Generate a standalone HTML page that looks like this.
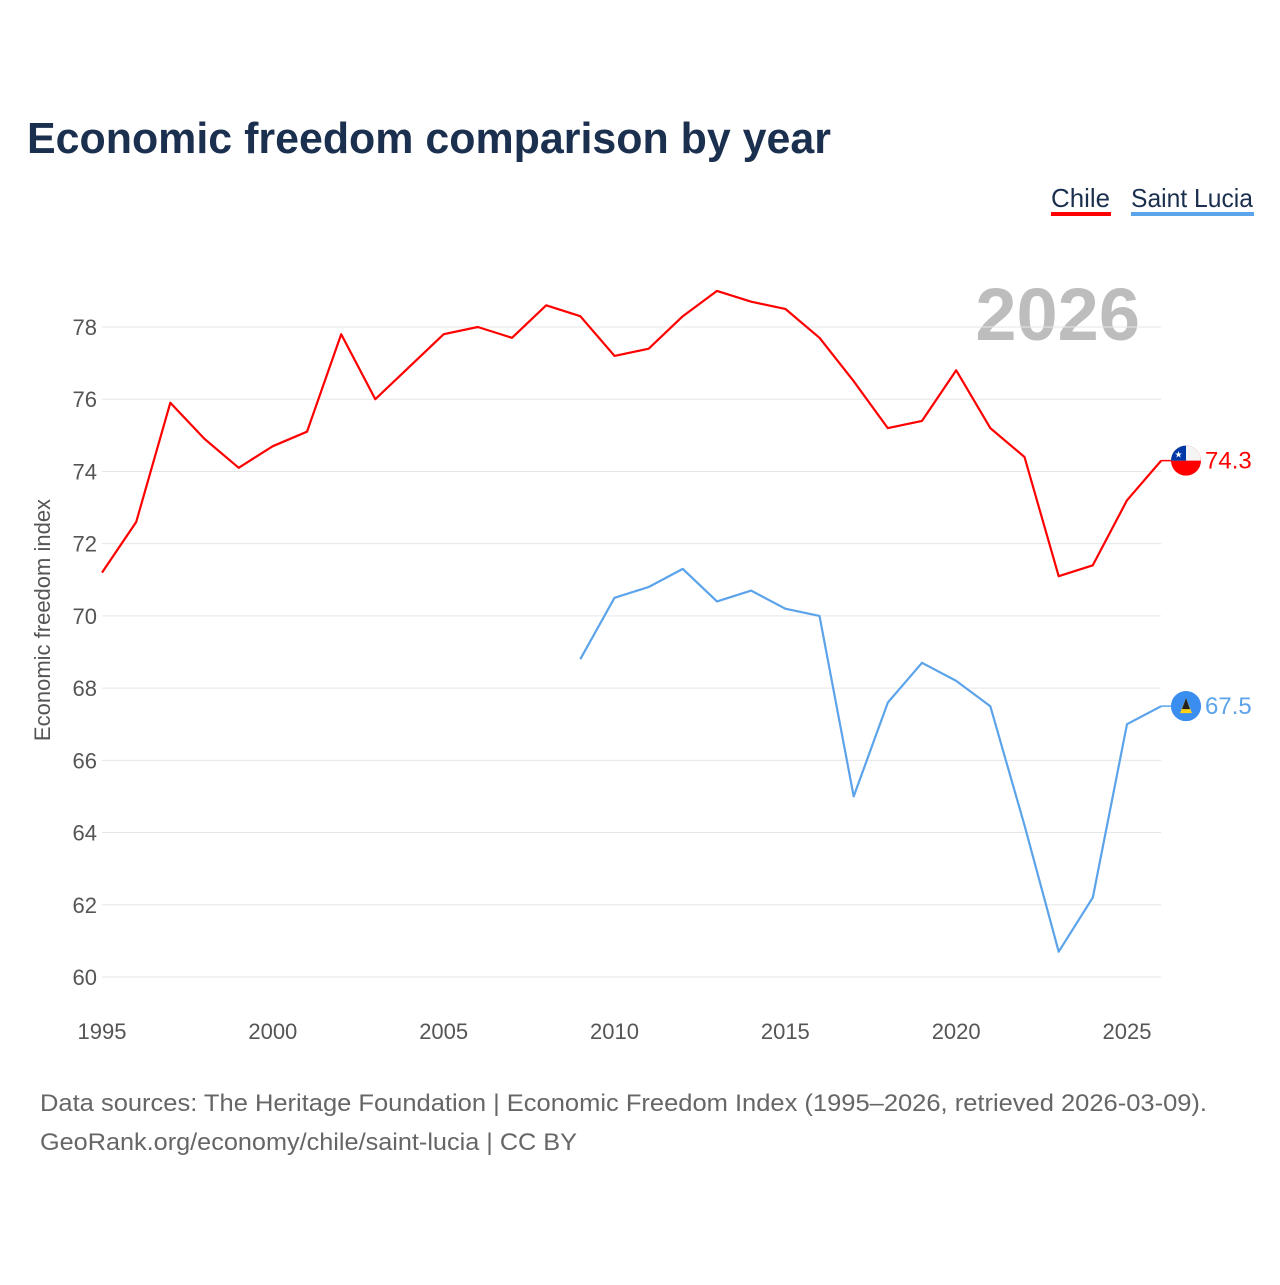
<!DOCTYPE html>
<html><head><meta charset="utf-8"><style>
body{margin:0;background:#fff;width:1280px;height:1280px;overflow:hidden;font-family:"Liberation Sans",sans-serif}
</style></head><body>
<svg id="chart" width="1280" height="1280" xmlns="http://www.w3.org/2000/svg" font-family="Liberation Sans, sans-serif">
<text x="27" y="153" font-size="44" font-weight="bold" fill="#1b2f4e" textLength="804" lengthAdjust="spacingAndGlyphs">Economic freedom comparison by year</text>
<g><text x="1051" y="207" font-size="26" fill="#1b2f4e" textLength="59" lengthAdjust="spacingAndGlyphs">Chile</text><rect x="1051" y="212" width="60" height="4" fill="#f00"/></g>
<g><text x="1131" y="207" font-size="26" fill="#1b2f4e" textLength="122" lengthAdjust="spacingAndGlyphs">Saint Lucia</text><rect x="1131" y="212" width="123" height="4" fill="#5ba3ea"/></g>
<text x="1140" y="340" font-size="74" font-weight="bold" fill="#bdbdbd" text-anchor="end">2026</text>
<g id="grid"></g><g id="xt"></g><g id="yt"></g><g id="series"></g>
<text transform="translate(50,620) rotate(-90)" font-size="22" fill="#555" text-anchor="middle">Economic freedom index</text>
<text x="40" y="1111" font-size="24" fill="#666" textLength="1167" lengthAdjust="spacingAndGlyphs">Data sources: The Heritage Foundation | Economic Freedom Index (1995–2026, retrieved 2026-03-09).</text>
<text x="40" y="1150" font-size="24" fill="#666" textLength="537" lengthAdjust="spacingAndGlyphs">GeoRank.org/economy/chile/saint-lucia | CC BY</text>
</svg>
<script>
const years=[1995,1996,1997,1998,1999,2000,2001,2002,2003,2004,2005,2006,2007,2008,2009,2010,2011,2012,2013,2014,2015,2016,2017,2018,2019,2020,2021,2022,2023,2024,2025,2026];
const chile=[71.2,72.6,75.9,74.9,74.1,74.7,75.1,77.8,76.0,76.9,77.8,78.0,77.7,78.6,78.3,77.2,77.4,78.3,79.0,78.7,78.5,77.7,76.5,75.2,75.4,76.8,75.2,74.4,71.1,71.4,73.2,74.3];
const stlucia=[null,null,null,null,null,null,null,null,null,null,null,null,null,null,68.8,70.5,70.8,71.3,70.4,70.7,70.2,70.0,65.0,67.6,68.7,68.2,67.5,64.2,60.7,62.2,67.0,67.5];
const yTicks=[60,62,64,66,68,70,72,74,76,78];
const xTicks=[1995,2000,2005,2010,2015,2020,2025];
const NS="http://www.w3.org/2000/svg";
const X=y=>102+(y-1995)*(1127-102)/30;
const Y=v=>977-(v-60)*(977-327)/18;
function mk(t,a,p){const e=document.createElementNS(NS,t);for(const k in a)e.setAttribute(k,a[k]);p.appendChild(e);return e;}
const g=document.getElementById('grid'),yt=document.getElementById('yt'),xt=document.getElementById('xt'),s=document.getElementById('series');
yTicks.forEach(v=>{
 const l=mk('line',{x1:102,x2:1161,y1:Y(v),y2:Y(v),stroke:'#e6e6e6','stroke-width':1},g);
 
 
 const t=mk('text',{x:97,y:Y(v)+8,'font-size':22,fill:'#555','text-anchor':'end'},yt);t.textContent=v;
 
 
});
xTicks.forEach(v=>{
 const t=mk('text',{x:X(v),y:1039,'font-size':22,fill:'#555','text-anchor':'middle'},xt);t.textContent=v;
 
 
});
function line(vals,col,name){
 let d='';vals.forEach((v,i)=>{if(v==null)return;d+=(d?'L':'M')+X(years[i]).toFixed(1)+','+Y(v).toFixed(1);});
 const p=mk('path',{d:d,fill:'none',stroke:col,'stroke-width':2.2,'stroke-linejoin':'round'},s);
 
 
 const last=vals[vals.length-1],ly=Y(last);
 mk('line',{x1:X(2026),x2:1186,y1:ly,y2:ly,stroke:col,'stroke-width':1.5},s);
 const c=mk('circle',{cx:1186,cy:ly,r:15,fill:col},s);
 
 
 const t=mk('text',{x:1205,y:ly+8,'font-size':24,fill:col},s);t.textContent=last.toFixed(1);
 
 
 return ly;
}
const cy=line(chile,'#f00','chile');
mk('path',{d:`M1171,${cy} A15,15 0 0 1 1201,${cy} Z`,fill:'#f4f4f4'},s);
mk('path',{d:`M1171,${cy} A15,15 0 0 1 1186,${cy-15} L1186,${cy} Z`,fill:'#0039a6'},s);
mk('text',{x:1178.5,y:cy-3,'font-size':9,fill:'#fff','text-anchor':'middle'},s).textContent='★';
const sy=line(stlucia,'#5ba3ea','saint-lucia');
mk('circle',{cx:1186,cy:sy,r:15,fill:'#3a8ef0'},s);
mk('path',{d:`M1186,${sy-8} L1192,${sy+7} L1180,${sy+7} Z`,fill:'#fcd116'},s);
mk('path',{d:`M1186,${sy-8} L1190,${sy+3} L1182,${sy+3} Z`,fill:'#222'},s);
</script>
</body></html>
